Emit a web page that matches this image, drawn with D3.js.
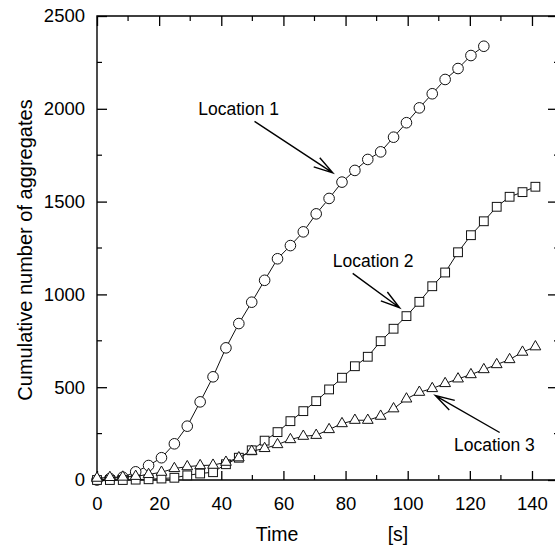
<!DOCTYPE html>
<html>
<head>
<meta charset="utf-8">
<script src="https://cdn.jsdelivr.net/npm/d3@7"></script>
<style>
  html, body { margin: 0; padding: 0; background: #fff; }
  svg { display: block; font-family: "Liberation Sans", Arial, Helvetica, sans-serif; }
</style>
</head>
<body>
<script>
// Sampling times [s]
const times = [0, 4.15, 8.3, 12.45, 16.6, 20.75, 24.9, 29.05, 33.2, 37.35, 41.5, 45.65,
  49.8, 53.95, 58.1, 62.25, 66.4, 70.55, 74.7, 78.85, 83, 87.15, 91.3, 95.45, 99.6,
  103.75, 107.9, 112.05, 116.2, 120.35, 124.5, 128.65, 132.8, 136.95, 141.1];

// Cumulative number of aggregates at each location
const location1 = [0, 8, 15, 44, 78, 120, 195, 290, 421, 556, 712, 843, 958, 1076, 1192,
  1263, 1337, 1434, 1517, 1605, 1668, 1727, 1768, 1847, 1925, 2005, 2081, 2158, 2217,
  2287, 2337];
const location2 = [0, 0, 0, 2, 4, 8, 12, 25, 35, 42, 85, 120, 160, 212, 258, 317, 371,
  425, 488, 551, 613, 664, 748, 815, 883, 960, 1044, 1118, 1227, 1319, 1394, 1472, 1526,
  1551, 1580];
const location3 = [10, 14, 16, 20, 30, 42, 62, 72, 78, 80, 96, 120, 155, 170, 191, 218,
  236, 241, 272, 304, 322, 322, 344, 384, 437, 473, 493, 520, 545, 568, 595, 622, 649,
  689, 718];

// Axis ticks
const xTicks = [0, 20, 40, 60, 80, 100, 120, 140];
const xMinorTicks = [10, 30, 50, 70, 90, 110, 130, 150];
const yTicks = [0, 500, 1000, 1500, 2000, 2500];
const yMinorTicks = [250, 750, 1250, 1750, 2250];

// Callouts, in data units: label anchor, arrow tail, arrow head
const calloutLabels = ["Location 1", "Location 2", "Location 3"];
const calloutLabelAt = [[45.6, 1964], [88.9, 1145], [127.9, 155]];
const calloutFrom = [[50.7, 1932], [82.3, 1113], [129.6, 256]];
const calloutTo = [[75.9, 1655], [97.4, 928], [108.9, 455]];

const W = 555, H = 550;
const plotLeft = 97, plotRight = 559, plotTop = 16, plotBottom = 480;

const x = d3.scaleLinear().domain([0, 140]).range([plotLeft, plotLeft + 140 * 3.107]);
const y = d3.scaleLinear().domain([0, 2500]).range([plotBottom, plotTop]);

const svg = d3.select("body").append("svg")
  .attr("width", W).attr("height", H).attr("viewBox", `0 0 ${W} ${H}`);

// Frame
svg.append("path")
  .attr("d", `M${plotRight},${plotTop}H${plotLeft}V${plotBottom}H${plotRight}`)
  .attr("fill", "none").attr("stroke", "#000").attr("stroke-width", 1.4);

// Bottom and top axes with inward ticks
const xAxisBottom = d3.axisBottom(x).tickValues(xTicks).tickSize(-9).tickPadding(17)
  .tickFormat(d3.format("d"));
svg.append("g").attr("transform", `translate(0,${plotBottom})`).call(xAxisBottom)
  .call(g => g.select(".domain").remove())
  .call(g => g.selectAll("line").attr("stroke", "#000").attr("stroke-width", 1.3))
  .call(g => g.selectAll("text").attr("font-size", 18.5).attr("fill", "#000")
    .attr("font-family", "Liberation Sans, Arial, sans-serif"));

const xAxisTop = d3.axisTop(x).tickValues(xTicks).tickSize(-10).tickFormat("");
svg.append("g").attr("transform", `translate(0,${plotTop})`).call(xAxisTop)
  .call(g => g.select(".domain").remove())
  .call(g => g.selectAll("line").attr("stroke", "#000").attr("stroke-width", 1.3));

const minorX = svg.append("g").attr("stroke", "#000").attr("stroke-width", 1.2);
minorX.selectAll("line.b").data(xMinorTicks).join("line").attr("class", "b")
  .attr("x1", d => x(d)).attr("x2", d => x(d)).attr("y1", plotBottom).attr("y2", plotBottom - 5);
minorX.selectAll("line.t").data(xMinorTicks).join("line").attr("class", "t")
  .attr("x1", d => x(d)).attr("x2", d => x(d)).attr("y1", plotTop).attr("y2", plotTop + 5);

// Left and right axes with inward ticks
const yAxisLeft = d3.axisLeft(y).tickValues(yTicks).tickSize(-10).tickPadding(12)
  .tickFormat(d3.format("d"));
svg.append("g").attr("transform", `translate(${plotLeft},0)`).call(yAxisLeft)
  .call(g => g.select(".domain").remove())
  .call(g => g.selectAll("line").attr("stroke", "#000").attr("stroke-width", 1.3))
  .call(g => g.selectAll("text").attr("font-size", 18.5).attr("fill", "#000")
    .attr("font-family", "Liberation Sans, Arial, sans-serif"));

const yAxisRight = d3.axisRight(y).tickValues(yTicks).tickSize(-11).tickFormat("");
svg.append("g").attr("transform", `translate(${plotRight},0)`).call(yAxisRight)
  .call(g => g.select(".domain").remove())
  .call(g => g.selectAll("line").attr("stroke", "#000").attr("stroke-width", 1.3));

const minorY = svg.append("g").attr("stroke", "#000").attr("stroke-width", 1.2);
minorY.selectAll("line.l").data(yMinorTicks).join("line").attr("class", "l")
  .attr("x1", plotLeft).attr("x2", plotLeft + 5).attr("y1", d => y(d)).attr("y2", d => y(d));
minorY.selectAll("line.r").data(yMinorTicks).join("line").attr("class", "r")
  .attr("x1", plotRight).attr("x2", plotRight - 5).attr("y1", d => y(d)).attr("y2", d => y(d));

// Axis titles
svg.append("text")
  .attr("transform", `translate(25,${(plotTop + plotBottom) / 2 + 2}) rotate(-90)`)
  .attr("text-anchor", "middle").attr("dominant-baseline", "central")
  .attr("font-size", 20).attr("fill", "#000")
  .text("Cumulative number of aggregates");
svg.append("text").attr("x", 277).attr("y", 541).attr("text-anchor", "middle")
  .attr("font-size", 19.5).attr("fill", "#000").text("Time");
svg.append("text").attr("x", 398).attr("y", 541).attr("text-anchor", "middle")
  .attr("font-size", 19.5).attr("fill", "#000").text("[s]");

// Series: connecting line plus open markers
const line = d3.line().x(d => x(d[0])).y(d => y(d[1]));
function pairs(values) { return values.map((v, i) => [times[i], v]); }

const series = [
  { values: location1, marker: "circle" },
  { values: location2, marker: "square" },
  { values: location3, marker: "triangle" }
];

series.forEach(s => {
  const pts = pairs(s.values);
  const g = svg.append("g");
  g.append("path").datum(pts).attr("d", line)
    .attr("fill", "none").attr("stroke", "#111").attr("stroke-width", 1);
  const m = g.selectAll("g.m").data(pts).join("g").attr("class", "m")
    .attr("transform", d => `translate(${x(d[0])},${y(d[1])})`);
  if (s.marker === "circle") {
    m.append("circle").attr("r", 5.3);
  } else if (s.marker === "square") {
    m.append("rect").attr("x", -4.4).attr("y", -4.4).attr("width", 8.8).attr("height", 8.8);
  } else {
    m.append("path").attr("d", d3.symbol(d3.symbolTriangle, 50)());
  }
  m.selectAll("*").attr("fill", "#fff").attr("stroke", "#111").attr("stroke-width", 1);
});

// Callouts with open arrowheads
const ann = svg.append("g");
calloutLabels.forEach((label, i) => {
  ann.append("text")
    .attr("x", x(calloutLabelAt[i][0])).attr("y", y(calloutLabelAt[i][1]))
    .attr("text-anchor", "middle").attr("font-size", 17.5).attr("fill", "#000")
    .text(label);
  const x1 = x(calloutFrom[i][0]), y1 = y(calloutFrom[i][1]);
  const x2 = x(calloutTo[i][0]), y2 = y(calloutTo[i][1]);
  const ang = Math.atan2(y1 - y2, x1 - x2);
  const len = 20, spread = 16 * Math.PI / 180;
  const b1 = [x2 + len * Math.cos(ang + spread), y2 + len * Math.sin(ang + spread)];
  const b2 = [x2 + len * Math.cos(ang - spread), y2 + len * Math.sin(ang - spread)];
  ann.append("path")
    .attr("d", `M${x1},${y1}L${x2},${y2}M${b1[0]},${b1[1]}L${x2},${y2}L${b2[0]},${b2[1]}`)
    .attr("fill", "none").attr("stroke", "#000").attr("stroke-width", 1.4);
});
</script>
</body>
</html>
